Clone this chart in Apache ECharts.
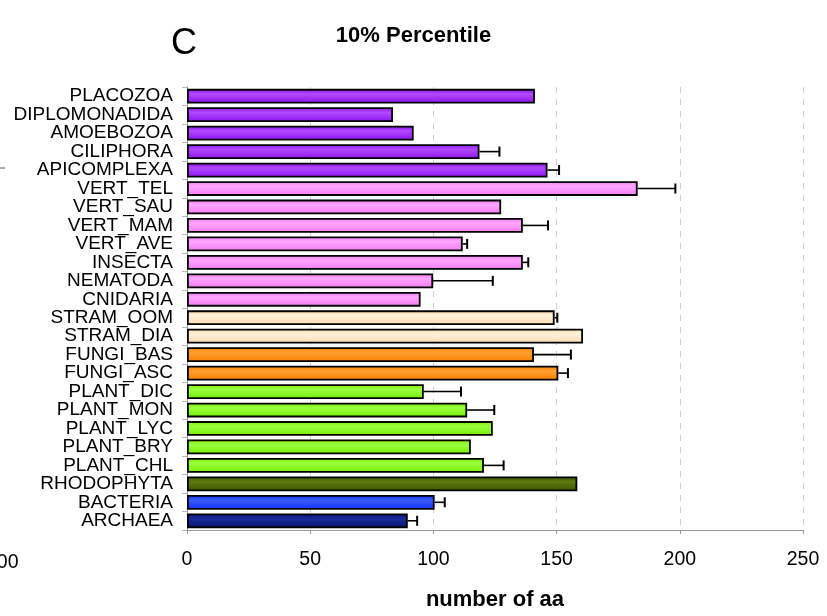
<!DOCTYPE html>
<html>
<head>
<meta charset="utf-8">
<script src="https://cdn.jsdelivr.net/npm/echarts@6/dist/echarts.min.js"></script>
<style>
html,body{margin:0;padding:0;background:#fff;}
#chart{width:827px;height:616px;}
</style>
</head>
<body>
<div id="chart"></div>
<script>
// ---- data (top to bottom) ----
const categories = ['PLACOZOA','DIPLOMONADIDA','AMOEBOZOA','CILIPHORA','APICOMPLEXA',
  'VERT_TEL','VERT_SAU','VERT_MAM','VERT_AVE','INSECTA','NEMATODA','CNIDARIA',
  'STRAM_OOM','STRAM_DIA','FUNGI_BAS','FUNGI_ASC',
  'PLANT_DIC','PLANT_MON','PLANT_LYC','PLANT_BRY','PLANT_CHL',
  'RHODOPHYTA','BACTERIA','ARCHAEA'];
const values = [141.2, 83.6, 92.0, 118.7, 146.3,
  182.9, 127.5, 136.3, 111.9, 136.3, 99.9, 94.8,
  149.2, 160.7, 140.8, 150.7,
  96.1, 113.7, 124.1, 115.2, 120.5,
  158.4, 100.5, 89.6];
const errors = [0, 0, 0, 8.1, 4.7,
  15.3, 0, 10.2, 1.8, 2.2, 24.2, 0,
  1.1, 0, 15.0, 3.9,
  15.1, 11.0, 0, 0, 8.0,
  0, 4.1, 3.8];
const groups = ['protist','protist','protist','protist','protist',
  'animal','animal','animal','animal','animal','animal','animal',
  'stram','stram','fungi','fungi',
  'plant','plant','plant','plant','plant',
  'rhodo','bact','arch'];
const xTicks = [0, 50, 100, 150, 200, 250];

// ---- styles ----
const groupColor = {
  protist: ['#b24aff', '#8c10ee'],
  animal:  ['#ffa6ff', '#f47af4'],
  stram:   ['#fff0d8', '#fcdcb0'],
  fungi:   ['#ffa030', '#f58200'],
  plant:   ['#9cff40', '#72ee00'],
  rhodo:   ['#5e7a10', '#3c5400'],
  bact:    ['#3a5cff', '#1030f0'],
  arch:    ['#1a2a9a', '#061274']
};
const FONT = '"Liberation Sans", Arial, sans-serif';

const chart = echarts.init(document.getElementById('chart'), null, {renderer:'canvas'});

const barData = values.map((v, i) => {
  const c = groupColor[groups[i]];
  return {
    value: v,
    itemStyle: {
      color: new echarts.graphic.LinearGradient(0, 0, 0, 1, [
        {offset: 0, color: c[1]},
        {offset: 0.35, color: c[0]},
        {offset: 1, color: c[1]}
      ]),
      borderColor: '#000',
      borderWidth: 1.8
    }
  };
});

const errData = values.map((v, i) => [i, v, v + errors[i]]).filter(d => d[2] > d[1]);

chart.setOption({
  animation: false,
  backgroundColor: '#fff',
  title: {
    text: '10% Percentile',
    left: 'center',
    top: 20,
    textStyle: {fontFamily: FONT, fontWeight: 'bold', fontSize: 22, color: '#000'}
  },
  graphic: [
    {type: 'text', left: 171, top: 26, style: {text: 'C', font: '36px ' + FONT, fill: '#000'}},
    {type: 'text', left: -14, top: 553, style: {text: '200', font: '19.5px ' + FONT, fill: '#000'}},
    {type: 'line', shape: {x1: 0, y1: 168, x2: 5, y2: 168}, style: {stroke: '#555', lineWidth: 1}}
  ],
  grid: {left: 187, right: 24, top: 87, bottom: 84, containLabel: false},
  xAxis: {
    type: 'value',
    min: xTicks[0],
    max: xTicks[xTicks.length - 1],
    interval: xTicks[1] - xTicks[0],
    name: 'number of aa',
    nameLocation: 'middle',
    nameGap: 59,
    nameTextStyle: {fontFamily: FONT, fontWeight: 'bold', fontSize: 22, color: '#000'},
    axisLine: {show: true, lineStyle: {color: '#999', width: 1}},
    axisTick: {show: true, length: 4, lineStyle: {color: '#999'}},
    axisLabel: {fontFamily: FONT, fontSize: 19.5, color: '#000', margin: 20},
    splitLine: {show: true, lineStyle: {color: '#d0d0d0', type: [6, 6], width: 1}}
  },
  yAxis: {
    type: 'category',
    data: categories,
    inverse: true,
    axisLine: {show: true, lineStyle: {color: '#999', width: 1}},
    axisTick: {show: true, length: 5, lineStyle: {color: '#bbb'}},
    axisLabel: {fontFamily: FONT, fontSize: 19, color: '#000', margin: 14, interval: 0},
    splitLine: {show: false}
  },
  series: [
    {
      type: 'bar',
      data: barData,
      barWidth: '80%'
    },
    {
      type: 'custom',
      data: errData,
      encode: {x: [1, 2], y: 0},
      z: 3,
      renderItem: function (params, api) {
        const cat = api.value(0);
        const p1 = api.coord([api.value(1), cat]);
        const p2 = api.coord([api.value(2), cat]);
        const h = 5;
        return {
          type: 'group',
          children: [
            {type: 'line', shape: {x1: p1[0], y1: p1[1], x2: p2[0], y2: p2[1]}, style: {stroke: '#000', lineWidth: 1.6}},
            {type: 'line', shape: {x1: p2[0], y1: p2[1] - h, x2: p2[0], y2: p2[1] + h}, style: {stroke: '#000', lineWidth: 2}}
          ]
        };
      }
    }
  ]
});
</script>
</body>
</html>
